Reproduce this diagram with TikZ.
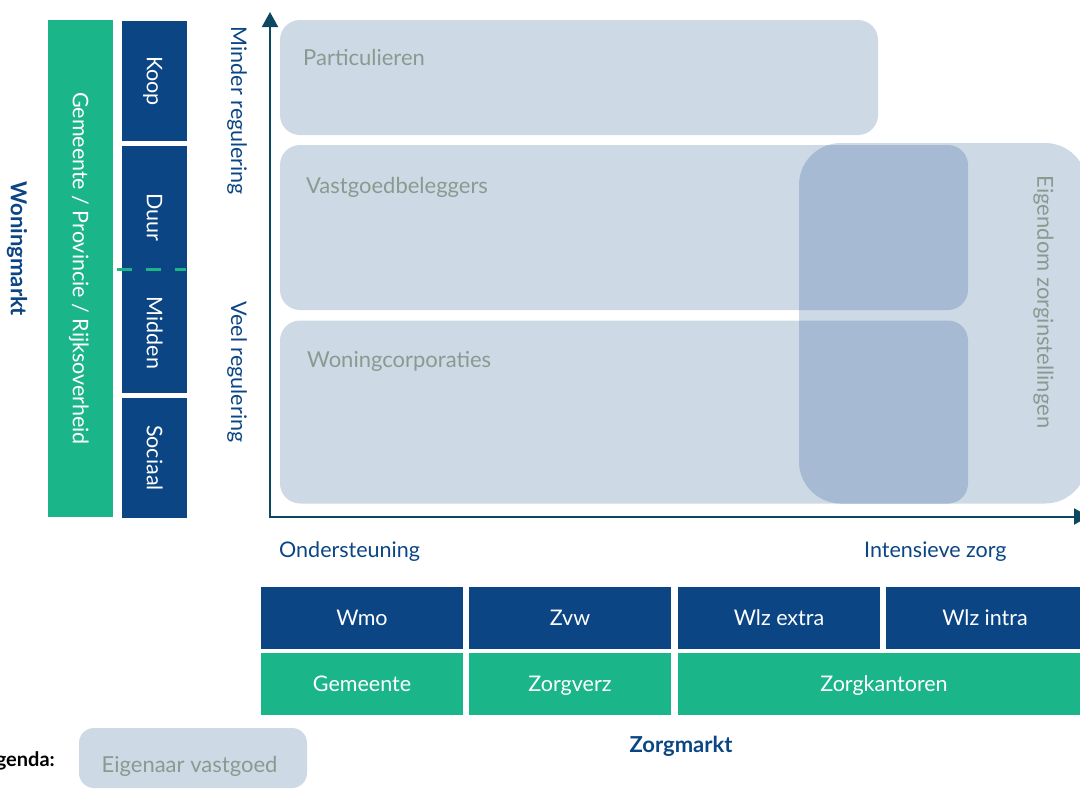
\documentclass[tikz,border=0pt]{standalone}
\usepackage{fontspec}
\setmainfont{Lato}
\usetikzlibrary{arrows.meta}
\definecolor{dblue}{RGB}{11,69,132}
\definecolor{mgreen}{RGB}{27,181,138}
\definecolor{axiscol}{RGB}{12,72,98}
\definecolor{lightbox}{RGB}{205,217,229}
\definecolor{darkbox}{RGB}{166,187,211}
\definecolor{boxtext}{RGB}{139,154,145}
\begin{document}
\begin{tikzpicture}[x=1pt,y=-1pt,
  fs/.style={font=\fontsize{21.5pt}{25pt}\selectfont},
  fsl/.style={font=\fontsize{22pt}{26pt}\selectfont},
  fsb/.style={font=\fontsize{22pt}{26pt}\selectfont\bfseries},
  bar/.style={inner sep=0pt, outer sep=0pt, text=white, fs, text height=15.5pt, text depth=0pt},
  bluebar/.style={bar, fill=dblue},
  greenbar/.style={bar, fill=mgreen},
  lbox/.style={fill=lightbox, inner sep=0pt, outer sep=0pt, rounded corners=20pt},
  lbtext/.style={fsl, text=boxtext, inner sep=0pt},
  axlabel/.style={fs, text=dblue, inner sep=0pt},
  dashline/.style={draw=mgreen, line width=3pt, dash pattern=on 15pt off 14pt},
  axisline/.style={draw=axiscol, line width=2pt, {Triangle[length=15pt,width=16pt]}-{Triangle[length=15pt,width=16pt]}}
]
\useasboundingbox (0,0) rectangle (1080,788);
\clip (0,0) rectangle (1080,788);

% left: housing market
\node[fsb, text=dblue, rotate=-90, inner sep=0pt] (woningmarkt) at (17,249) {Woningmarkt};
\node[greenbar, rotate=-90, minimum width=497pt, minimum height=65pt] (gov) at (80.5,268.5) {Gemeente / Provincie / Rijksoverheid};
\node[bluebar, rotate=-90, minimum width=120pt, minimum height=65pt] (koop) at (154.5,81) {Koop};
\node[bluebar, rotate=-90, minimum width=247pt, minimum height=65pt] (duurmid) at (154.5,269.5) {};
\node[bar, rotate=-90] (duur) at (154.5,217) {Duur};
\node[bar, rotate=-90] (midden) at (154.5,333) {Midden};
\node[bluebar, rotate=-90, minimum width=120pt, minimum height=65pt] (sociaal) at (154.5,458) {Sociaal};
\coordinate (dashL) at (117,269);
\coordinate (dashR) at (186,269);
\draw[dashline] (dashL) -- (dashR);

% axis labels
\node[axlabel, rotate=-90] (minder) at (237,111) {Minder regulering};
\node[axlabel, rotate=-90] (veel) at (237,372) {Veel regulering};

% owner boxes
\node[lbox, rounded corners=42pt, minimum width=288pt, minimum height=360.5pt] (eig) at (943,323.25) {};
\node[lbox, minimum width=598pt, minimum height=115pt] (part) at (579,77.5) {};
\node[lbox, minimum width=688pt, minimum height=165pt] (vast) at (624,227.5) {};
\node[lbox, minimum width=688pt, minimum height=183pt] (woon) at (624,412) {};
\begin{scope}
  \clip[rounded corners=42pt] (eig.north west) rectangle (eig.south east);
  \fill[darkbox, rounded corners=20pt] (vast.north west) rectangle (vast.south east);
  \fill[darkbox, rounded corners=20pt] (woon.north west) rectangle (woon.south east);
\end{scope}
\node[lbtext, anchor=base west] (partT) at (303,65) {Particulieren};
\node[lbtext, anchor=base west] (vastT) at (306,193) {Vastgoedbeleggers};
\node[lbtext, anchor=base west] (woonT) at (307,367) {Woningcorporaties};
\node[lbtext, rotate=-90] (eigT) at (1043.5,302) {Eigendom zorginstellingen};

% axes
\coordinate (ytip) at (270,12);
\coordinate (origin) at (270,516.5);
\coordinate (xtip) at (1089,516.5);
\draw[axisline] (ytip) -- (origin) -- (xtip);

\node[axlabel, anchor=base west] (onder) at (279,557) {Ondersteuning};
\node[axlabel, anchor=base west] (intens) at (864,557) {Intensieve zorg};

% care market
\node[bluebar, minimum width=202pt, minimum height=62pt] (wmo) at (362,618) {Wmo};
\node[bluebar, minimum width=202pt, minimum height=62pt] (zvw) at (570,618) {Zvw};
\node[bluebar, minimum width=202pt, minimum height=62pt] (wlzx) at (779,618) {Wlz extra};
\node[bluebar, minimum width=198pt, minimum height=62pt] (wlzi) at (985,618) {Wlz intra};
\node[greenbar, minimum width=202pt, minimum height=62pt] (gem) at (362,684) {Gemeente};
\node[greenbar, minimum width=202pt, minimum height=62pt] (zv) at (570,684) {Zorgverz};
\node[greenbar, minimum width=412pt, minimum height=62pt] (zk) at (884,684) {Zorgkantoren};
\node[fsb, text=dblue, inner sep=0pt] (zorgmarkt) at (681,746) {Zorgmarkt};

% legend
\node[font=\fontsize{20pt}{24pt}\selectfont\bfseries, text=black, anchor=base east, inner sep=0pt] (legenda) at (55,766) {Legenda:};
\node[lbox, rounded corners=15pt, minimum width=228pt, minimum height=60pt] (leg) at (193,758) {};
\node[lbtext, anchor=base west] (legT) at (101.5,772) {Eigenaar vastgoed};
\end{tikzpicture}
\end{document}
